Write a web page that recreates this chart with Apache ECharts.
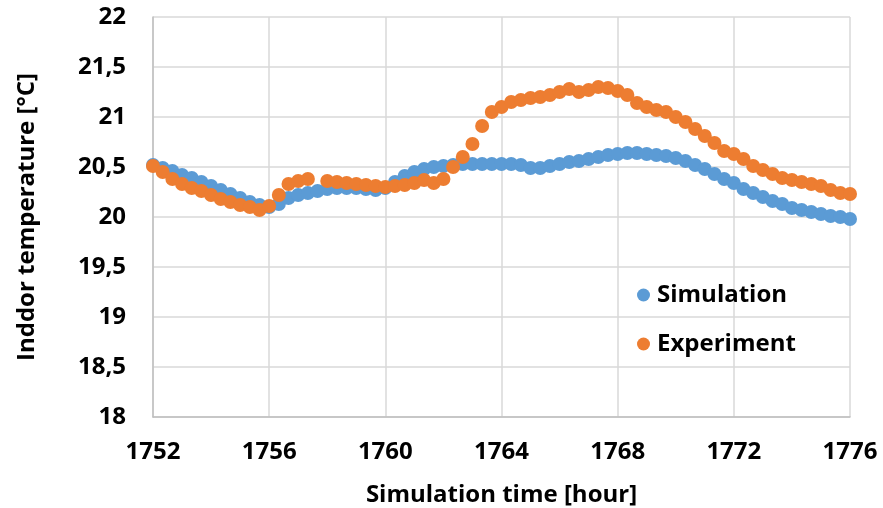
<!DOCTYPE html>
<html>
<head>
<meta charset="utf-8">
<script src="https://cdn.jsdelivr.net/npm/echarts@6/dist/echarts.min.js"></script>
<style>
  html, body { margin: 0; padding: 0; background: #fff; }
  #main { width: 883px; height: 508px; }
</style>
</head>
<body>
<div id="main"></div>
<script>
// time axis: samples every 20 minutes from hour 1752
var START_HOUR = 1752;
var STEP_HOUR = 1 / 3;

var simulation = [
  20.52, 20.49, 20.46, 20.42, 20.39, 20.35, 20.31, 20.27, 20.23, 20.19,
  20.15, 20.12, 20.10, 20.13, 20.19, 20.22, 20.24, 20.26, 20.28, 20.29,
  20.29, 20.29, 20.28, 20.27, 20.29, 20.35, 20.41, 20.45, 20.48, 20.50,
  20.51, 20.52, 20.53, 20.53, 20.53, 20.53, 20.53, 20.53, 20.52, 20.49,
  20.49, 20.51, 20.53, 20.55, 20.56, 20.58, 20.60, 20.62, 20.63, 20.64,
  20.64, 20.63, 20.62, 20.61, 20.59, 20.56, 20.52, 20.48, 20.43, 20.38,
  20.34, 20.28, 20.24, 20.20, 20.16, 20.13, 20.09, 20.07, 20.05, 20.03,
  20.01, 20.00, 19.98
];

var experiment = [
  20.51, 20.45, 20.38, 20.33, 20.29, 20.26, 20.22, 20.18, 20.15, 20.12,
  20.10, 20.07, 20.11, 20.22, 20.33, 20.36, 20.38, null, 20.36, 20.35,
  20.34, 20.33, 20.32, 20.31, 20.30, 20.31, 20.32, 20.34, 20.37, 20.34,
  20.38, 20.50, 20.60, 20.73, 20.91, 21.05, 21.10, 21.15, 21.17, 21.19,
  21.20, 21.22, 21.25, 21.28, 21.25, 21.27, 21.30, 21.29, 21.26, 21.22,
  21.14, 21.10, 21.07, 21.05, 21.00, 20.95, 20.88, 20.81, 20.74, 20.66,
  20.63, 20.58, 20.51, 20.47, 20.43, 20.39, 20.37, 20.35, 20.33, 20.31,
  20.27, 20.24, 20.23
];

function toPairs(values) {
  return values.map(function (v, i) {
    return [START_HOUR + i * STEP_HOUR, v];
  });
}

var FONT = '"Open Sans", sans-serif';
var TEXT = { fontFamily: FONT, fontSize: 24, fontWeight: 'bold', color: '#000' };
var chart = echarts.init(document.getElementById('main'));

chart.setOption({
  animation: false,
  backgroundColor: '#fff',
  grid: { left: 153, right: 33, top: 17, bottom: 91, outerBoundsMode: 'none', containLabel: false },
  legend: {
    orient: 'vertical',
    left: 632,
    top: 278,
    itemGap: 25,
    itemWidth: 13,
    itemHeight: 13,
    icon: 'circle',
    textStyle: Object.assign({ padding: [0, 0, 0, 2] }, TEXT),
    data: ['Simulation', 'Experiment']
  },
  xAxis: {
    type: 'value',
    min: 1752,
    max: 1776,
    interval: 4,
    name: 'Simulation time [hour]',
    nameLocation: 'middle',
    nameGap: 66,
    nameTextStyle: TEXT,
    axisLine: { lineStyle: { color: '#bfbfbf', width: 1.5 } },
    axisTick: { show: false },
    axisLabel: Object.assign({ margin: 23, formatter: function (v) { return String(v); } }, TEXT),
    splitLine: { show: true, lineStyle: { color: '#d9d9d9', width: 1.5 } }
  },
  yAxis: {
    type: 'value',
    min: 18,
    max: 22,
    interval: 0.5,
    name: 'Inddor temperature [°C]',
    nameLocation: 'middle',
    nameGap: 114,
    nameTextStyle: TEXT,
    axisLine: { show: true, lineStyle: { color: '#bfbfbf', width: 1.5 } },
    axisTick: { show: false },
    axisLabel: Object.assign({
      margin: 27,
      formatter: function (v) { return String(v).replace('.', ','); }
    }, TEXT),
    splitLine: { show: true, lineStyle: { color: '#d9d9d9', width: 1.5 } }
  },
  series: [
    {
      name: 'Simulation',
      type: 'scatter',
      symbolSize: 14,
      itemStyle: { color: '#5b9bd5', opacity: 1 },
      data: toPairs(simulation)
    },
    {
      name: 'Experiment',
      type: 'scatter',
      symbolSize: 14,
      itemStyle: { color: '#ed7d31', opacity: 1 },
      data: toPairs(experiment).filter(function (p) { return p[1] !== null; })
    }
  ]
});
</script>
</body>
</html>
